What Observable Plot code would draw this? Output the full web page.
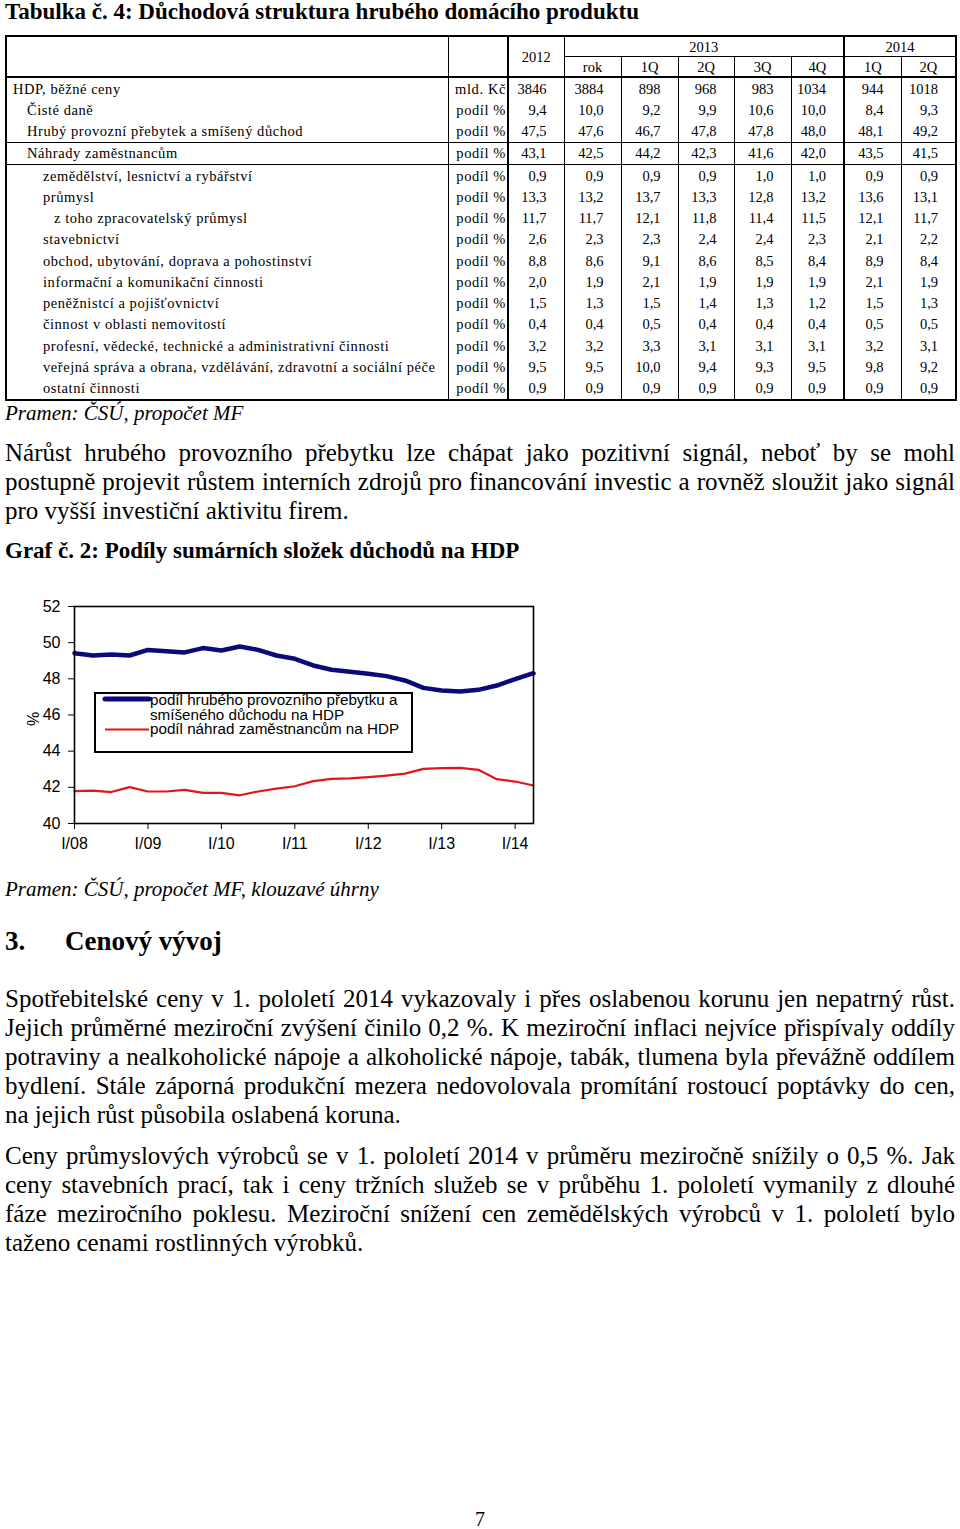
<!DOCTYPE html>
<html><head><meta charset="utf-8">
<script src="https://cdn.jsdelivr.net/npm/d3@7"></script>
<script src="https://cdn.jsdelivr.net/npm/@observablehq/plot@0.6"></script>
<style>
html,body{margin:0;padding:0;background:#fff;}
#page{position:relative;width:960px;height:1529px;overflow:hidden;font-family:"Liberation Serif","Times New Roman",serif;color:#000;}
.abs{position:absolute;white-space:nowrap;}
.jline{position:absolute;left:5px;width:950px;font-size:25px;line-height:29px;white-space:nowrap;}
table.t{position:absolute;left:5px;top:35px;width:950px;border-collapse:collapse;table-layout:fixed;border:2px solid #000;font-size:14.5px;}
table.t td{padding:0;border-left:1.5px solid #000;border-right:1.5px solid #000;vertical-align:middle;line-height:16px;white-space:nowrap;overflow:hidden;}
table.t tr.h td{height:19px;text-align:center;}
table.t tr.b td{height:21.25px;}
table.t td.lab{text-align:left;padding-left:6px;letter-spacing:0.55px;}
table.t td.unit{text-align:right;padding-right:1px;border-right:2.5px solid #000;letter-spacing:0.6px;}
table.t td.val{text-align:right;padding-right:17px;}
table.t td.sep{border-right:2.5px solid #000;}
table.t td.hb{border-bottom:2px solid #000;}
table.t td.sb{border-bottom:1.5px solid #000;}
table.t tr.line td{border-bottom:1.5px solid #000;}
#legend{position:absolute;left:94px;top:692px;width:319px;height:61px;box-sizing:border-box;border:2px solid #000;background:#fff;font-family:"Liberation Sans",Arial,sans-serif;font-size:15.2px;}
#legend .lt{position:absolute;left:54px;line-height:16px;white-space:nowrap;}
</style></head><body><div id="page"></div>
<script>
// ---------- table data ----------
const rowLabels = ["HDP, běžné ceny","Čisté daně","Hrubý provozní přebytek a smíšený důchod","Náhrady zaměstnancům","zemědělství, lesnictví a rybářství","průmysl","z toho zpracovatelský průmysl","stavebnictví","obchod, ubytování, doprava a pohostinství","informační a komunikační činnosti","peněžnistcí a pojišťovnictví","činnost v oblasti nemovitostí","profesní, vědecké, technické a administrativní činnosti","veřejná správa a obrana, vzdělávání, zdravotní a sociální péče","ostatní činnosti"];
const rowLevels = [0,1,1,1,2,2,3,2,2,2,2,2,2,2,2];
const rowUnits = ["mld. Kč","podíl %","podíl %","podíl %","podíl %","podíl %","podíl %","podíl %","podíl %","podíl %","podíl %","podíl %","podíl %","podíl %","podíl %"];
const yearHeaders = ["2012","2013","2014"];
const subHeaders = ["rok","1Q","2Q","3Q","4Q","1Q","2Q"];
const valHDP = [3846,3884,898,968,983,1034,944,1018];
const valDane = [9.4,10.0,9.2,9.9,10.6,10.0,8.4,9.3];
const valHPP = [47.5,47.6,46.7,47.8,47.8,48.0,48.1,49.2];
const valNahrady = [43.1,42.5,44.2,42.3,41.6,42.0,43.5,41.5];
const valZemed = [0.9,0.9,0.9,0.9,1.0,1.0,0.9,0.9];
const valPrumysl = [13.3,13.2,13.7,13.3,12.8,13.2,13.6,13.1];
const valZpracov = [11.7,11.7,12.1,11.8,11.4,11.5,12.1,11.7];
const valStaveb = [2.6,2.3,2.3,2.4,2.4,2.3,2.1,2.2];
const valObchod = [8.8,8.6,9.1,8.6,8.5,8.4,8.9,8.4];
const valInfo = [2.0,1.9,2.1,1.9,1.9,1.9,2.1,1.9];
const valPenez = [1.5,1.3,1.5,1.4,1.3,1.2,1.5,1.3];
const valNemov = [0.4,0.4,0.5,0.4,0.4,0.4,0.5,0.5];
const valProfes = [3.2,3.2,3.3,3.1,3.1,3.1,3.2,3.1];
const valVerej = [9.5,9.5,10.0,9.4,9.3,9.5,9.8,9.2];
const valOstatni = [0.9,0.9,0.9,0.9,0.9,0.9,0.9,0.9];
const tableValues = [valHDP,valDane,valHPP,valNahrady,valZemed,valPrumysl,valZpracov,valStaveb,valObchod,valInfo,valPenez,valNemov,valProfes,valVerej,valOstatni];

// ---------- chart data ----------
const quarterLabels = ["I/08","II/08","III/08","IV/08","I/09","II/09","III/09","IV/09","I/10","II/10","III/10","IV/10","I/11","II/11","III/11","IV/11","I/12","II/12","III/12","IV/12","I/13","II/13","III/13","IV/13","I/14","II/14"];
const surplusShare = [49.42,49.29,49.35,49.29,49.60,49.53,49.46,49.70,49.57,49.79,49.60,49.29,49.11,48.74,48.50,48.39,48.28,48.15,47.91,47.50,47.35,47.30,47.39,47.63,47.98,48.31];
const compensationShare = [41.79,41.82,41.74,42.01,41.77,41.77,41.86,41.69,41.69,41.56,41.77,41.93,42.06,42.34,42.47,42.49,42.56,42.65,42.76,43.02,43.06,43.08,42.97,42.45,42.32,42.10];
const yTicks = [40,42,44,46,48,50,52];
const yLabel = "%";
const legendLines = ["podíl hrubého provozního přebytku a","smíšeného důchodu na HDP","podíl náhrad zaměstnancům na HDP"];

// ---------- texts ----------
const tableTitle = "Tabulka č. 4: Důchodová struktura hrubého domácího produktu";
const source1 = "Pramen: ČSÚ, propočet MF";
const para1 = ["Nárůst hrubého provozního přebytku lze chápat jako pozitivní signál, neboť by se mohl","postupně projevit růstem interních zdrojů pro financování investic a rovněž sloužit jako signál","pro vyšší investiční aktivitu firem."];
const chartTitle = "Graf č. 2: Podíly sumárních složek důchodů na HDP";
const source2 = "Pramen: ČSÚ, propočet MF, klouzavé úhrny";
const headingNum = "3.";
const headingText = "Cenový vývoj";
const para2 = ["Spotřebitelské ceny v 1. pololetí 2014 vykazovaly i přes oslabenou korunu jen nepatrný růst.","Jejich průměrné meziroční zvýšení činilo 0,2 %. K meziroční inflaci nejvíce přispívaly oddíly","potraviny a nealkoholické nápoje a alkoholické nápoje, tabák, tlumena byla převážně oddílem","bydlení. Stále záporná produkční mezera nedovolovala promítání rostoucí poptávky do cen,","na jejich růst působila oslabená koruna."];
const para3 = ["Ceny průmyslových výrobců se v 1. pololetí 2014 v průměru meziročně snížily o 0,5 %. Jak","ceny stavebních prací, tak i ceny tržních služeb se v průběhu 1. pololetí vymanily z dlouhé","fáze meziročního poklesu. Meziroční snížení cen zemědělských výrobců v 1. pololetí bylo","taženo cenami rostlinných výrobků."];
const pageNumber = "7";

// ---------- build page ----------
const page = document.getElementById("page");
function addText(txt, left, top, style){
  const d = document.createElement("div");
  d.className = "abs";
  d.textContent = txt;
  d.style.left = left + "px"; d.style.top = top + "px";
  Object.assign(d.style, style || {});
  page.appendChild(d);
  return d;
}
function addPara(lines, top){
  lines.forEach((ln, k) => {
    const d = document.createElement("div");
    d.className = "jline";
    d.style.top = (top + 29 * k) + "px";
    const s = document.createElement("span");
    s.textContent = ln;
    d.appendChild(s);
    page.appendChild(d);
    if (k < lines.length - 1) {
      const w = s.getBoundingClientRect().width;
      const n = (ln.match(/ /g) || []).length;
      if (n > 0) s.style.wordSpacing = ((950 - w) / n) + "px";
    }
  });
}

addText(tableTitle, 5, 0, {fontSize:"23px", fontWeight:"bold", lineHeight:"23px"});

// table
const fmt = (v, r) => r === 0 ? String(v) : v.toFixed(1).replace(".", ",");
let html = '<colgroup><col style="width:442px"><col style="width:60px"><col style="width:56px"><col style="width:57px"><col style="width:57px"><col style="width:56px"><col style="width:57px"><col style="width:53px"><col style="width:57px"><col style="width:55px"></colgroup>';
html += '<tr class="h"><td rowspan="2" class="hb"></td><td rowspan="2" class="hb unit"></td><td rowspan="2" class="hb" style="text-align:center">' + yearHeaders[0] + '</td><td colspan="5" class="sb sep">' + yearHeaders[1] + '</td><td colspan="2" class="sb">' + yearHeaders[2] + '</td></tr>';
html += '<tr class="h">' + subHeaders.map((s, j) => '<td class="hb' + (j === 4 ? ' sep' : '') + '">' + s + '</td>').join("") + '</tr>';
rowLabels.forEach((lab, r) => {
  const cls = (r === 2 || r === 3) ? "b line" : "b";
  html += '<tr class="' + cls + '"><td class="lab" style="padding-left:' + [6,20,36,47][rowLevels[r]] + 'px">' + lab + '</td><td class="unit">' + rowUnits[r] + '</td>' +
    tableValues[r].map((v, j) => '<td class="val' + (j === 5 ? ' sep' : '') + '">' + fmt(v, r) + '</td>').join("") + '</tr>';
});
const tbl = document.createElement("table");
tbl.className = "t";
tbl.innerHTML = html;
page.appendChild(tbl);

addText(source1, 5, 400, {fontSize:"21px", fontStyle:"italic", lineHeight:"26px"});
addPara(para1, 438);
addText(chartTitle, 5, 538, {fontSize:"23px", fontWeight:"bold", lineHeight:"26px"});

// chart
const data = quarterLabels.map((q, i) => ({i, q, surplus: surplusShare[i], comp: compensationShare[i]}));
const chart = Plot.plot({
  width: 560, height: 270,
  marginLeft: 74, marginRight: 27, marginTop: 16, marginBottom: 37,
  style: {fontFamily: "'Liberation Sans', Arial, sans-serif", fontSize: "16px", color: "#000", background: "transparent", overflow: "visible"},
  x: {domain: [0, quarterLabels.length - 1], ticks: d3.range(0, quarterLabels.length, 4), tickFormat: i => quarterLabels[i], tickSize: 6, tickPadding: 8, label: null},
  y: {domain: [yTicks[0], yTicks[yTicks.length - 1]], ticks: yTicks, tickSize: 6, tickPadding: 8, label: null},
  marks: [
    Plot.lineY(data, {x: "i", y: "comp", stroke: "#e2141c", strokeWidth: 2.2}),
    Plot.lineY(data, {x: "i", y: "surplus", stroke: "#0a0a7a", strokeWidth: 4.5, strokeLinejoin: "round", strokeLinecap: "round"}),
    Plot.text([yLabel], {text: d => d, frameAnchor: "left", rotate: -90, dx: -41, dy: 11, fontSize: 16, fill: "#000"}),
    Plot.frame({stroke: "#000", strokeWidth: 1.6})
  ]
});
chart.style.position = "absolute";
chart.style.left = "0px";
chart.style.top = "590px";
page.appendChild(chart);

// legend overlay
const leg = document.createElement("div");
leg.id = "legend";
leg.innerHTML = '<svg width="60" height="50" style="position:absolute;left:0;top:0">' +
  '<line x1="9" x2="53" y1="5" y2="5" stroke="#0a0a7a" stroke-width="5" stroke-linecap="round"/>' +
  '<line x1="9" x2="53" y1="35.5" y2="35.5" stroke="#e2141c" stroke-width="2.2"/></svg>' +
  '<div class="lt" style="top:-2px">' + legendLines[0] + '</div>' +
  '<div class="lt" style="top:13px">' + legendLines[1] + '</div>' +
  '<div class="lt" style="top:27px">' + legendLines[2] + '</div>';
page.appendChild(leg);

addText(source2, 5, 876, {fontSize:"21px", fontStyle:"italic", lineHeight:"26px"});
addText(headingNum, 5, 926, {fontSize:"27px", fontWeight:"bold", lineHeight:"30px"});
addText(headingText, 65, 926, {fontSize:"27px", fontWeight:"bold", lineHeight:"30px"});
addPara(para2, 984);
addPara(para3, 1141);
addText(pageNumber, 475, 1506, {fontSize:"20px", lineHeight:"26px"});
</script></body></html>
